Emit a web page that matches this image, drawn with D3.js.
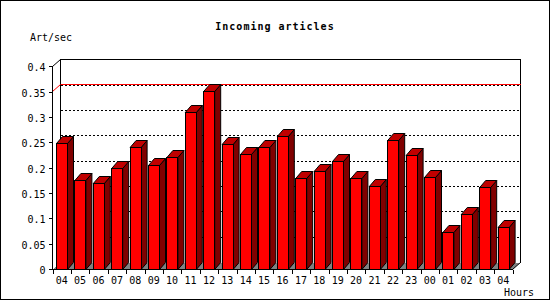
<!DOCTYPE html>
<html><head><meta charset="utf-8">
<script src="https://cdn.jsdelivr.net/npm/d3@7"></script>
<style>html,body{margin:0;padding:0;background:#fff;} svg{display:block;}</style>
</head><body><div id="chart"></div>
<script>
const hours = ["04","05","06","07","08","09","10","11","12","13","14","15","16","17","18","19","20","21","22","23","00","01","02","03","04"];
const values = [0.248,0.176,0.170,0.199,0.241,0.205,0.221,0.310,0.352,0.246,0.227,0.241,0.262,0.180,0.193,0.214,0.180,0.164,0.254,0.225,0.181,0.073,0.108,0.162,0.083];
const yTicks = [0,0.05,0.1,0.15,0.2,0.25,0.3,0.35,0.4];
const yTickLabels = ["0","0.05","0.1","0.15","0.2","0.25","0.3","0.35","0.4"];
const gridVals = [0.05,0.1,0.15,0.2,0.25,0.3,0.35];
const title = "Incoming articles";
const yTitle = "Art/sec";
const xTitle = "Hours";

const W = 550, H = 300;
const DX = 8, DY = 7;       // box depth
const BDX = 6, BDY = 7;     // bar depth
const svg = d3.select("#chart").append("svg").attr("width", W).attr("height", H)
  .attr("shape-rendering", "crispEdges");

const x = d3.scaleBand().domain(d3.range(hours.length)).range([52.5, 512.5]).paddingInner(0).paddingOuter(0);
const y = d3.scaleLinear().domain([0, 0.4]).range([269, 66.4]);
const cy = v => Math.round(y(v)) + 0.5;
const font = "'DejaVu Sans Mono', 'Liberation Mono', monospace";

svg.append("rect").attr("x",0).attr("y",0).attr("width",W).attr("height",H).attr("fill","#fff");
svg.append("rect").attr("x",0.5).attr("y",0.5).attr("width",W-1).attr("height",H-1)
  .attr("fill","none").attr("stroke","#000");

const x0 = x.range()[0], x1 = x.range()[1];
const yTop = cy(0.4), yBot = cy(0);

// back wall grid
const g = svg.append("g");
g.selectAll("line.grid").data(gridVals).join("line")
  .attr("x1", x0 + DX).attr("x2", x1 + DX)
  .attr("y1", d => cy(d) - DY).attr("y2", d => cy(d) - DY)
  .attr("stroke", "#000").attr("stroke-dasharray", "2,2");

// back wall outline
g.append("path").attr("d", `M${x0+DX},${yBot-DY}V${yTop-DY}H${x1+DX}V${yBot-DY}`)
  .attr("fill","none").attr("stroke","#000");
// top-left diagonal
g.append("line").attr("x1", x0).attr("y1", yTop).attr("x2", x0+DX).attr("y2", yTop-DY)
  .attr("stroke","#000").attr("shape-rendering","auto");

// max line
const maxV = d3.max(values);
g.append("line").attr("x1", x0+DX).attr("x2", x1+DX).attr("y1", cy(maxV)-DY).attr("y2", cy(maxV)-DY)
  .attr("stroke", "#ff0000");
g.append("line").attr("x1", x0).attr("y1", cy(maxV)).attr("x2", x0+DX).attr("y2", cy(maxV)-DY)
  .attr("stroke", "#ff0000").attr("shape-rendering","auto");

// floor
g.append("path").attr("d", `M${x0},${yBot}L${x1},${yBot}L${x1+DX},${yBot-DY}L${x0+DX},${yBot-DY}Z`)
  .attr("fill", "#808080").attr("stroke","none");

// bars
const bars = svg.append("g").selectAll("g").data(values).join("g");
bars.each(function(v, i) {
  const gb = d3.select(this);
  const fx0 = x(i) + 4, fx1 = fx0 + 11;
  const yt = cy(v);
  gb.append("path").attr("d", `M${fx1},${yt}L${fx1+BDX},${yt-BDY}L${fx1+BDX},${yBot-BDY}L${fx1},${yBot}Z`)
    .attr("fill", "#800000").attr("stroke", "#000").attr("shape-rendering","auto");
  gb.append("path").attr("d", `M${fx0},${yt}L${fx0+BDX},${yt-BDY}L${fx1+BDX},${yt-BDY}L${fx1},${yt}Z`)
    .attr("fill", "#c00000").attr("stroke", "#000").attr("shape-rendering","auto");
  gb.append("rect").attr("x", fx0).attr("y", yt).attr("width", 11).attr("height", yBot - yt)
    .attr("fill", "#ff0000").attr("stroke", "#000");
});

// front axes
svg.append("line").attr("x1", x0).attr("x2", x0).attr("y1", yTop).attr("y2", yBot).attr("stroke","#000");
svg.append("line").attr("x1", x0).attr("x2", x1).attr("y1", yBot).attr("y2", yBot).attr("stroke","#000");
svg.append("line").attr("x1", x1).attr("y1", yBot).attr("x2", x1+DX).attr("y2", yBot-DY)
  .attr("stroke","#000").attr("shape-rendering","auto");

// y ticks
svg.selectAll("line.yt").data(yTicks).join("line")
  .attr("x1", x0 - 4).attr("x2", x0).attr("y1", d => cy(d)).attr("y2", d => cy(d)).attr("stroke","#000");
svg.selectAll("text.yl").data(yTicks).join("text")
  .attr("x", 45.5).attr("y", d => cy(d) + 4.5).attr("text-anchor","end")
  .attr("font-family", font).attr("font-size", 10).attr("fill","#000")
  .text((d, i) => yTickLabels[i]);

// x ticks
svg.selectAll("line.xt").data(d3.range(hours.length + 1)).join("line")
  .attr("x1", d => Math.round(x0 + d * x.step()) + 0.5).attr("x2", d => Math.round(x0 + d * x.step()) + 0.5)
  .attr("y1", yBot).attr("y2", yBot + 4.5).attr("stroke","#000");
svg.selectAll("text.xl").data(hours).join("text")
  .attr("x", (d, i) => x(i) + x.bandwidth()/2).attr("y", 284)
  .attr("text-anchor","middle").attr("font-family", font).attr("font-size", 10).attr("fill","#000")
  .text(d => d);

// titles
svg.append("text").attr("x", 275).attr("y", 29.5).attr("text-anchor","middle")
  .attr("font-family", font).attr("font-size", 10).attr("font-weight","bold")
  .attr("letter-spacing", 1).attr("fill","#000").text(title);
svg.append("text").attr("x", 30).attr("y", 41).attr("font-family", font).attr("font-size", 10)
  .attr("fill","#000").text(yTitle);
svg.append("text").attr("x", 504).attr("y", 296).attr("font-family", font).attr("font-size", 10)
  .attr("fill","#000").text(xTitle);
</script>
</body></html>
